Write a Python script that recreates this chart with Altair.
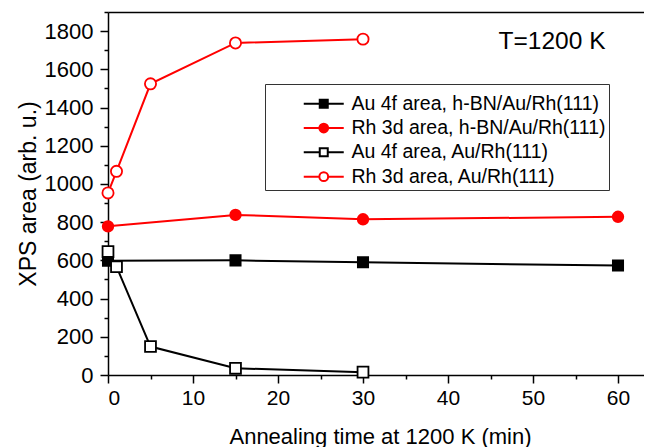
import altair as alt
import pandas as pd

# ---- data ----
series_names = [
    "Au 4f area, h-BN/Au/Rh(111)",
    "Rh 3d area, h-BN/Au/Rh(111)",
    "Au 4f area, Au/Rh(111)",
    "Rh 3d area, Au/Rh(111)",
]
t_hbn = [0, 15, 30, 60]
au_hbn = [598, 600, 590, 573]
rh_hbn = [778, 838, 815, 828]
t_bare = [0, 1, 5, 15, 30]
au_bare = [646, 567, 149, 35, 15]
rh_bare = [953, 1066, 1524, 1738, 1758]

stroke_colors = ["black", "#ff0000", "black", "#ff0000"]
fill_colors = ["black", "#ff0000", "white", "white"]
plot_shapes = ["square", "circle", "square", "circle"]
plot_sizes = [105, 125, 105, 125]

# legend symbols: line segment + marker (custom SVG paths)
sq = "M-1,0M6.5,0H10.5M12.5,0H16.5M10.5,-1H12.5V1H10.5Z"
ci = ("M-1,0M6.5,0H10.4M12.6,0H16.5M10.4,0"
      "A1.1,1.1,0,1,0,12.6,0A1.1,1.1,0,1,0,10.4,0Z")
legend_shapes = [sq, ci, sq, ci]

rows = []
for t, v in zip(t_hbn, au_hbn):
    rows.append({"t": t, "v": v, "series": series_names[0]})
for t, v in zip(t_hbn, rh_hbn):
    rows.append({"t": t, "v": v, "series": series_names[1]})
for t, v in zip(t_bare, au_bare):
    rows.append({"t": t, "v": v, "series": series_names[2]})
for t, v in zip(t_bare, rh_bare):
    rows.append({"t": t, "v": v, "series": series_names[3]})
df = pd.DataFrame(rows)

annot = pd.DataFrame({"t": [45.95], "v": [1745], "label": ["T=1200 K"]})

FONT = "Liberation Sans"
# plot area is 536 px wide on the page; x scale runs on past its right edge
xs = alt.Scale(domain=[0, 64.0], range=[0, 544], nice=False, zero=False)
ys = alt.Scale(domain=[0, 1900], nice=False)

base = alt.Chart(df)

lines = base.mark_line(strokeWidth=2).encode(
    x=alt.X("t:Q", scale=xs, axis=alt.Axis(
        values=[0, 10, 20, 30, 40, 50, 60], tickSize=8, orient="bottom", format="d",
        title="Annealing time at 1200 K (min)", labelPadding=4, titlePadding=18,
        titleFontSize=22, labelFontSize=21)),
    y=alt.Y("v:Q", scale=ys, axis=alt.Axis(
        values=list(range(0, 1801, 200)), tickSize=8, orient="left", format="d",
        title="XPS area (arb. u.)", labelPadding=7, titlePadding=4,
        titleFontSize=23, labelFontSize=22)),
    stroke=alt.Stroke("series:N", scale=alt.Scale(domain=series_names, range=stroke_colors), legend=None),
    order=alt.Order("t:Q"),
)

points = base.mark_point(filled=False, opacity=1, strokeWidth=1.8).encode(
    x=alt.X("t:Q", scale=xs, axis=alt.Axis(
        values=[5, 15, 25, 35, 45, 55], tickSize=4, orient="bottom",
        labels=False, domain=False, title=None)),
    y=alt.Y("v:Q", scale=ys, axis=alt.Axis(
        values=list(range(100, 1901, 200)), tickSize=4, orient="left",
        labels=False, domain=False, title=None)),
    stroke=alt.Stroke("series:N", scale=alt.Scale(domain=series_names, range=stroke_colors), legend=None),
    fill=alt.Fill("series:N", scale=alt.Scale(domain=series_names, range=fill_colors), legend=None),
    shape=alt.Shape("series:N", scale=alt.Scale(domain=series_names, range=plot_shapes), legend=None),
    size=alt.Size("series:N", scale=alt.Scale(domain=series_names, range=plot_sizes), legend=None),
)

legend_cfg = alt.Legend(
    title=" ", titleFontSize=5, titlePadding=2,
    orient="none", legendX=157, legendY=72,
    strokeColor="#333333", fillColor="white", padding=3,
    labelFont=FONT, labelFontSize=19.5, labelColor="black", labelLimit=0,
    labelOffset=64, symbolSize=64, symbolStrokeWidth=2, rowPadding=3.3,
    symbolFillColor="white",
)

legend_layer = base.mark_point(opacity=0, filled=True).encode(
    x=alt.X("t:Q", scale=xs, axis=alt.Axis(
        orient="top", ticks=False, labels=False, domain=True, title=None)),
    y=alt.Y("v:Q", scale=ys, axis=None),
    stroke=alt.Stroke("series:N", scale=alt.Scale(domain=series_names, range=stroke_colors), legend=legend_cfg),
    fill=alt.Fill("series:N", scale=alt.Scale(domain=series_names, range=fill_colors), legend=legend_cfg),
    shape=alt.Shape("series:N", scale=alt.Scale(domain=series_names, range=legend_shapes), legend=legend_cfg),
)

text = alt.Chart(annot).mark_text(
    align="left", baseline="middle", font=FONT, fontSize=24.5, color="black"
).encode(
    x=alt.X("t:Q", scale=xs, axis=None),
    y=alt.Y("v:Q", scale=ys, axis=None),
    text="label:N",
)

chart = alt.layer(lines, points, legend_layer, text).resolve_scale(
    stroke="independent", fill="independent", shape="independent", size="independent"
).resolve_axis(
    x="independent", y="independent"
).properties(
    width=536, height=363,
    padding={"left": 100, "top": 4, "right": 0, "bottom": 72},
    autosize=alt.AutoSizeParams(type="none"),
).configure_view(
    stroke=None
).configure_axis(
    labelFont=FONT, titleFont=FONT,
    labelColor="black", titleColor="black", domainColor="black", tickColor="black",
    domainWidth=1.5, tickWidth=1.5, grid=False, titleFontWeight="normal",
)

chart.save("out.html", embed_options={"renderer": "svg", "actions": False})
